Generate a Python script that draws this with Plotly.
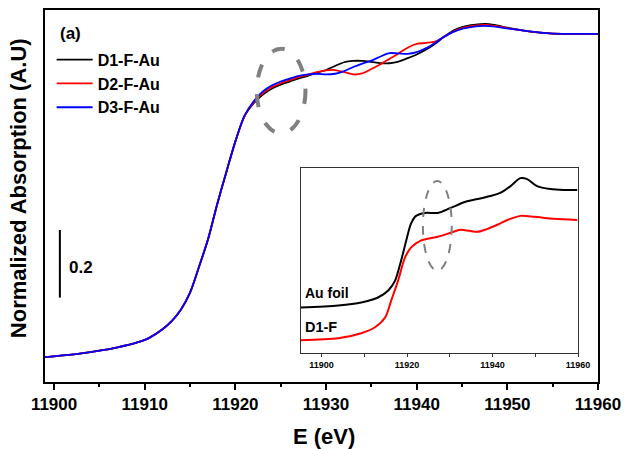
import plotly.graph_objects as go

# ---------------- data ----------------
energy_main = [11899, 11901, 11903, 11905, 11907, 11909, 11910.5, 11912, 11913, 11914,
               11915, 11916, 11917, 11918, 11919, 11920, 11921, 11922, 11923, 11924,
               11925, 11926, 11927, 11928, 11929, 11930, 11931, 11932, 11933, 11934,
               11935, 11936, 11937, 11938, 11939, 11940, 11941, 11942, 11943, 11944,
               11945, 11946, 11947, 11948, 11949, 11950, 11952, 11954, 11956, 11958, 11960]

d1_f_au = [0.000, 0.005, 0.011, 0.019, 0.029, 0.042, 0.057, 0.083, 0.107, 0.141,
           0.191, 0.268, 0.350, 0.453, 0.547, 0.638, 0.712, 0.750, 0.776, 0.794,
           0.806, 0.815, 0.824, 0.832, 0.841, 0.849, 0.861, 0.872, 0.876, 0.876,
           0.873, 0.869, 0.869, 0.874, 0.884, 0.895, 0.909, 0.926, 0.947, 0.965,
           0.976, 0.982, 0.985, 0.985, 0.980, 0.974, 0.965, 0.959, 0.956, 0.956, 0.956]

d2_f_au = [0.000, 0.005, 0.011, 0.019, 0.029, 0.042, 0.057, 0.083, 0.107, 0.141,
           0.191, 0.268, 0.350, 0.453, 0.547, 0.638, 0.712, 0.753, 0.780, 0.798,
           0.810, 0.819, 0.828, 0.835, 0.843, 0.848, 0.849, 0.843, 0.836, 0.839,
           0.852, 0.866, 0.882, 0.898, 0.915, 0.926, 0.929, 0.933, 0.947, 0.962,
           0.973, 0.979, 0.982, 0.982, 0.978, 0.973, 0.965, 0.959, 0.956, 0.956, 0.956]

d3_f_au = [0.000, 0.005, 0.011, 0.019, 0.029, 0.042, 0.057, 0.083, 0.107, 0.141,
           0.191, 0.268, 0.350, 0.453, 0.547, 0.638, 0.714, 0.756, 0.785, 0.803,
           0.815, 0.824, 0.832, 0.836, 0.838, 0.836, 0.838, 0.846, 0.858, 0.868,
           0.877, 0.889, 0.899, 0.898, 0.897, 0.902, 0.913, 0.929, 0.947, 0.961,
           0.971, 0.976, 0.979, 0.979, 0.976, 0.972, 0.965, 0.959, 0.956, 0.956, 0.956]

series_names = ["D1-F-Au", "D2-F-Au", "D3-F-Au"]
series_colors = ["#000000", "#ff0000", "#0000ff"]

# inset
energy_foil = [11895.1, 11903.9, 11909.3, 11913.2, 11915.6, 11917.2, 11918.6, 11919.8,
               11920.9, 11922.1, 11924.2, 11927.2, 11930.2, 11933.5, 11936.5, 11939.5,
               11941.8, 11944.2, 11946.5, 11948.1, 11950.4, 11953.5, 11956.7, 11959.8]
au_foil = [0.247, 0.258, 0.274, 0.301, 0.339, 0.392, 0.500, 0.608,
           0.699, 0.742, 0.758, 0.758, 0.785, 0.817, 0.833, 0.849,
           0.866, 0.903, 0.946, 0.941, 0.903, 0.887, 0.882, 0.882]

energy_d1f = [11895.1, 11903.9, 11909.3, 11912.5, 11914.9, 11916.3, 11917.9, 11919.5,
              11920.9, 11923.2, 11927.2, 11930.2, 11932.5, 11934.6, 11936.5, 11938.8,
              11941.1, 11943.5, 11946.5, 11949.8, 11954.4, 11959.8]
d1_f = [0.070, 0.081, 0.108, 0.140, 0.194, 0.285, 0.392, 0.516,
        0.570, 0.608, 0.629, 0.651, 0.667, 0.661, 0.656, 0.672,
        0.694, 0.720, 0.742, 0.737, 0.726, 0.720]

main_ticks = [11900, 11910, 11920, 11930, 11940, 11950, 11960]
inset_ticks = [11900, 11920, 11940, 11960]

FONT = "Liberation Sans, Arial, Helvetica, sans-serif"

fig = go.Figure()

for name, col, ys in zip(series_names, series_colors, [d1_f_au, d2_f_au, d3_f_au]):
    fig.add_trace(go.Scatter(x=energy_main, y=ys, mode="lines", name=name,
                             line=dict(color=col, width=1.8, shape="spline", smoothing=0.8)))

fig.add_trace(go.Scatter(x=energy_foil, y=au_foil, mode="lines", showlegend=False,
                         xaxis="x2", yaxis="y2",
                         line=dict(color="#000000", width=2, shape="spline", smoothing=0.8)))
fig.add_trace(go.Scatter(x=energy_d1f, y=d1_f, mode="lines", showlegend=False,
                         xaxis="x2", yaxis="y2",
                         line=dict(color="#ff0000", width=2, shape="spline", smoothing=0.8)))

fig.update_layout(
    width=629, height=449,
    margin=dict(l=45, r=28, t=8, b=67),
    paper_bgcolor="white", plot_bgcolor="white",
    font=dict(family=FONT, color="black"),
    showlegend=True,
    legend=dict(x=0.012, y=0.912, xanchor="left", yanchor="top",
                bgcolor="rgba(0,0,0,0)", borderwidth=0,
                font=dict(family=FONT, size=16, weight="bold", color="black"),
                itemwidth=36, tracegroupgap=0),
    xaxis=dict(range=[11899, 11960], domain=[0, 1], anchor="y",
               tickvals=main_ticks, ticktext=[str(t) for t in main_ticks],
               ticks="outside", ticklen=6, tickwidth=1.5, tickcolor="black",
               minor=dict(dtick=5, tick0=11900, ticks="outside", ticklen=3, tickwidth=1.5, tickcolor="black"),
               showline=True, linewidth=2, linecolor="black", mirror=True,
               showgrid=False, zeroline=False,
               tickfont=dict(family=FONT, size=17, weight="bold", color="black")),
    yaxis=dict(range=[-0.0735, 1.0265], domain=[0, 1], anchor="x",
               showticklabels=False, ticks="",
               showline=True, linewidth=2, linecolor="black", mirror=True,
               showgrid=False, zeroline=False),
    xaxis2=dict(range=[11895.1, 11960], domain=[0.4622, 0.964], anchor="y2",
                tickvals=inset_ticks, ticktext=[str(t) for t in inset_ticks],
                ticks="outside", ticklen=3, tickwidth=1, tickcolor="#333333",
                minor=dict(dtick=10, tick0=11900, ticks="outside", ticklen=3, tickwidth=1, tickcolor="#333333"),
                showline=True, linewidth=1, linecolor="#333333", mirror=True,
                showgrid=False, zeroline=False,
                tickfont=dict(family=FONT, size=9, weight="bold", color="black")),
    yaxis2=dict(range=[0, 1], domain=[0.0775, 0.5749], anchor="x2",
                showticklabels=False, ticks="",
                showline=True, linewidth=1, linecolor="#333333", mirror=True,
                showgrid=False, zeroline=False),
)

# dashed ellipses and scale bar
fig.add_shape(type="circle", xref="x", yref="y", x0=11922.36, x1=11927.73, y0=0.662, y1=0.912,
              line=dict(color="#808080", width=4, dash="13px,17px"))
fig.add_shape(type="circle", xref="x2", yref="y2", x0=11923.7, x1=11930.45, y0=0.446, y1=0.930,
              line=dict(color="#808080", width=2, dash="9px,9px"))
fig.add_shape(type="line", xref="x", yref="y", x0=11900.64, x1=11900.64, y0=0.176, y1=0.376,
              line=dict(color="black", width=2))

ann_font = dict(family=FONT, size=17, weight="bold", color="black")
fig.add_annotation(x=11903.0, y=0.265, xref="x", yref="y", text="0.2", showarrow=False,
                   font=ann_font, xanchor="center", yanchor="middle")
fig.add_annotation(x=(71 - 45) / 556, y=(382 - 32) / 374, xref="paper", yref="paper", text="(a)",
                   showarrow=False, font=ann_font, xanchor="center", yanchor="middle")
fig.add_annotation(x=(304 - 45) / 556, y=(382 - 293) / 374, xref="paper", yref="paper", text="Au foil",
                   showarrow=False, font=dict(family=FONT, size=14, weight="bold", color="black"),
                   xanchor="left", yanchor="middle")
fig.add_annotation(x=(304 - 45) / 556, y=(382 - 327) / 374, xref="paper", yref="paper", text="D1-F",
                   showarrow=False, font=dict(family=FONT, size=14.5, weight="bold", color="black"),
                   xanchor="left", yanchor="middle")
fig.add_annotation(x=(326 - 45) / 556, y=(382 - 437) / 374, xref="paper", yref="paper", text="E (eV)",
                   showarrow=False, font=dict(family=FONT, size=22, weight="bold", color="black"),
                   xanchor="center", yanchor="middle")
fig.add_annotation(x=(18 - 45) / 556, y=(382 - 187) / 374, xref="paper", yref="paper",
                   text="Normalized Absorption (A.U)", textangle=-90,
                   showarrow=False, font=dict(family=FONT, size=22, weight="bold", color="black"),
                   xanchor="center", yanchor="middle")

fig.write_html("out.html")
